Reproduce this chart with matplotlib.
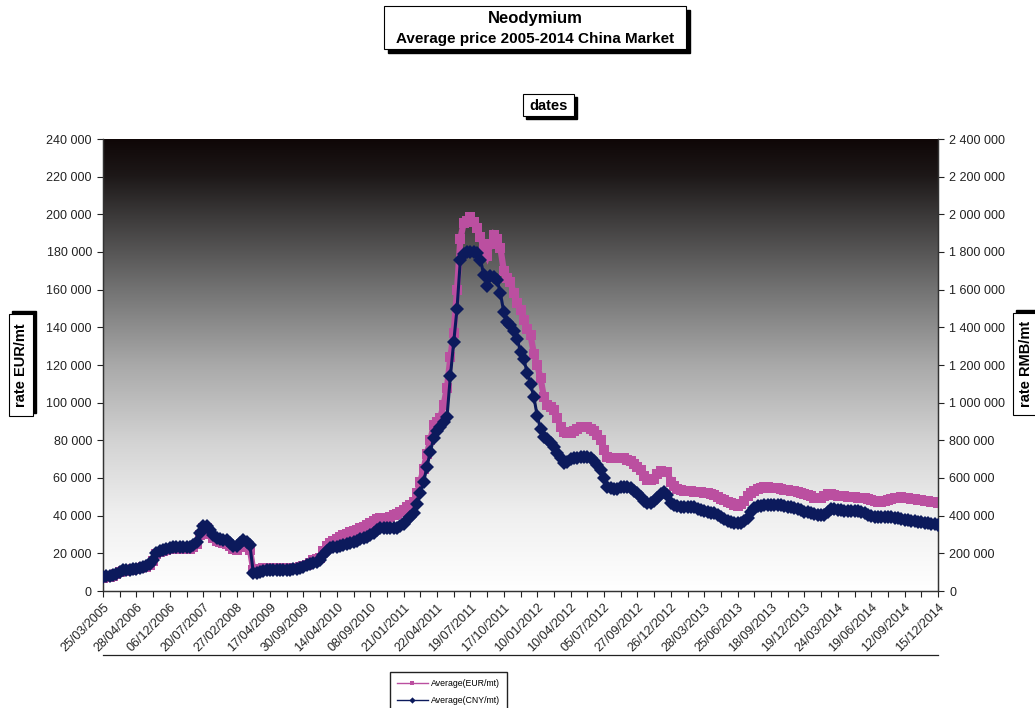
import matplotlib

matplotlib.use("Agg")
import matplotlib.pyplot as plt
import numpy as np
from matplotlib.colors import LinearSegmentedColormap
from matplotlib.lines import Line2D
from matplotlib.patches import Rectangle

plt.rcParams["font.family"] = ["Liberation Sans", "DejaVu Sans"]

# category labels shown on the date axis (one every 10 samples)
date_labels = [
    "25/03/2005", "28/04/2006", "06/12/2006", "20/07/2007", "27/02/2008",
    "17/04/2009", "30/09/2009", "14/04/2010", "08/09/2010", "21/01/2011",
    "22/04/2011", "19/07/2011", "17/10/2011", "10/01/2012", "10/04/2012",
    "05/07/2012", "27/09/2012", "26/12/2012", "28/03/2013", "25/06/2013",
    "18/09/2013", "19/12/2013", "24/03/2014", "19/06/2014", "12/09/2014",
    "15/12/2014",
]

# average price, EUR/mt (thousands), sampled evenly along the category axis
eur_k = [
    7.0, 7.3, 7.6, 8.0, 9.0, 10.0, 10.4, 10.8, 11.2, 11.5,
    11.8, 12.2, 12.5, 13.0, 14.0, 16.0, 19.5, 20.6, 21.3, 22.0,
    22.2, 22.4, 22.5, 22.5, 22.5, 22.5, 22.5, 23.5, 25.0, 30.0,
    33.5, 33.2, 30.5, 28.0, 26.5, 25.8, 25.3, 25.0, 24.0, 22.5,
    22.0, 23.5, 24.5, 23.5, 22.0, 11.0, 11.5, 11.8, 12.0, 12.0,
    12.0, 12.0, 12.0, 12.0, 12.0, 12.0, 12.2, 12.3, 12.4, 12.5,
    13.2, 14.0, 15.0, 16.2, 17.0, 17.5, 21.0, 24.0, 25.5, 26.5,
    27.5, 28.5, 29.5, 30.5, 31.2, 32.0, 32.6, 33.3, 34.0, 35.0,
    36.0, 37.0, 38.0, 38.5, 38.8, 39.0, 39.5, 40.3, 41.0, 42.0,
    43.2, 44.5, 45.8, 47.0, 52.0, 58.0, 65.0, 73.0, 80.0, 88.0,
    90.0, 92.0, 99.0, 108.0, 124.0, 137.0, 160.0, 187.0, 195.5, 196.5,
    198.5, 196.0, 193.0, 188.0, 182.0, 178.0, 184.0, 189.0, 187.0, 182.0,
    170.0, 166.0, 164.0, 158.0, 153.0, 149.0, 144.0, 139.0, 136.0, 126.0,
    120.0, 113.0, 103.0, 99.0, 97.5, 96.0, 92.0, 87.0, 84.5, 84.0,
    84.0, 85.0, 86.0, 87.0, 87.2, 87.0, 86.0, 85.0, 83.0, 80.0,
    75.0, 71.0, 70.8, 70.5, 70.5, 70.5, 70.5, 69.8, 69.0, 67.5,
    66.0, 64.0, 61.0, 59.0, 59.0, 59.5, 62.0, 63.5, 63.3, 63.0,
    58.0, 55.5, 54.0, 53.5, 53.3, 53.2, 53.0, 52.8, 52.7, 52.5,
    52.2, 51.8, 51.3, 51.0, 50.0, 49.0, 48.3, 47.5, 46.5, 45.5,
    45.0, 46.0, 48.0, 50.5, 52.0, 53.0, 54.0, 54.5, 55.0, 55.0,
    54.8, 54.6, 54.5, 54.0, 53.8, 53.5, 53.3, 53.0, 52.5, 52.0,
    51.3, 51.0, 50.3, 49.6, 49.3, 49.3, 50.5, 51.5, 51.3, 51.0,
    50.5, 50.3, 50.2, 50.0, 50.0, 49.8, 49.6, 49.4, 49.3, 48.8,
    48.2, 47.7, 47.4, 47.4, 47.8, 48.3, 48.8, 49.3, 49.6, 49.8,
    49.6, 49.3, 49.0, 48.7, 48.4, 48.2, 48.0, 47.7, 47.4, 47.1,
    46.8,
]

# average price, CNY/mt (thousands), same sampling
cny_k = [
    76, 78, 80, 83, 90, 102, 110, 112, 114, 115,
    118, 123, 128, 133, 142, 165, 200, 212, 218, 225,
    228, 231, 234, 235, 235, 235, 235, 245, 260, 310,
    345, 345, 325, 300, 280, 276, 273, 270, 255, 240,
    238, 255, 270, 258, 242, 96, 97, 100, 105, 109,
    110, 110, 110, 110, 110, 110, 112, 115, 119, 124,
    130, 138, 143, 150, 154, 165, 190, 215, 226, 232,
    235, 237, 242, 248, 255, 261, 268, 275, 283, 288,
    297, 310, 325, 333, 333, 333, 333, 333, 335, 345,
    358, 375, 395, 415, 460, 520, 580, 660, 740, 810,
    850, 870, 895, 925, 1140, 1320, 1500, 1760, 1790, 1800,
    1800, 1800, 1795, 1760, 1680, 1620, 1670, 1665, 1650, 1580,
    1480, 1430, 1410, 1380, 1340, 1270, 1230, 1160, 1100, 1030,
    930, 860, 820, 805, 785, 765, 735, 705, 680, 685,
    700, 705, 707, 710, 710, 710, 705, 690, 670, 640,
    600, 550, 545, 540, 542, 550, 554, 552, 545, 530,
    518, 500, 480, 465, 468, 480, 495, 515, 525, 510,
    465, 455, 450, 448, 448, 448, 448, 445, 438, 430,
    425, 420, 416, 412, 405, 395, 383, 373, 368, 362,
    360, 360, 370, 390, 420, 440, 450, 453, 456, 457,
    457, 457, 457, 456, 452, 448, 444, 440, 435, 428,
    422, 418, 412, 407, 404, 404, 405, 420, 435, 433,
    430, 428, 427, 426, 426, 425, 423, 421, 415, 405,
    398, 395, 395, 395, 395, 395, 393, 390, 385, 380,
    378, 376, 373, 370, 368, 365, 363, 360, 358, 355,
    351,
]

W, H = 1035, 708
PINK = "#bb4fa0"
NAVY = "#0c1a5c"


def fx(px):
    return px / W


def fy(py):
    return 1 - py / H


def shadow_box(fig, x0, y0, x1, y1, dx, dy):
    # white box with a black drop shadow, pixel coords from top-left
    fig.patches.append(Rectangle((fx(x0 + dx), fy(y1 + dy)), fx(x1 - x0), (y1 - y0) / H,
                                 transform=fig.transFigure, facecolor="black",
                                 edgecolor="black", zorder=5))
    fig.patches.append(Rectangle((fx(x0), fy(y1)), fx(x1 - x0), (y1 - y0) / H,
                                 transform=fig.transFigure, facecolor="white",
                                 edgecolor="black", linewidth=0.8, zorder=6))


def thousands(v, _pos=None):
    return f"{int(round(v)):,}".replace(",", " ")


fig = plt.figure(figsize=(W / 100, H / 100), dpi=100)
ax = fig.add_axes([fx(103), fy(591), fx(938 - 103), 452 / H])

n = len(eur_k)
idx = np.arange(n)
eur = np.array(eur_k) * 1000
cny = np.array(cny_k) * 1000

# dark-to-white vertical gradient behind the plot (row 0 = top)
grad_cmap = LinearSegmentedColormap.from_list("bg", [
    (0.0, "#0f0707"), (0.08, "#1d1818"), (0.17, "#3c3a3a"), (0.33, "#727272"),
    (0.5, "#a9a9a9"), (0.67, "#d3d3d3"), (0.83, "#efefef"), (1.0, "#ffffff"),
])
grad = np.linspace(0, 1, 256).reshape(-1, 1)
ax.imshow(grad, extent=[0, n - 1, 0, 240000], origin="upper", aspect="auto",
          cmap=grad_cmap, interpolation="bilinear", zorder=0)

ax.plot(idx, eur, color=PINK, lw=4.5, marker="s", markersize=7.2,
        markeredgewidth=0, solid_joinstyle="miter", zorder=3)
ax.set_xlim(0, n - 1)
ax.set_ylim(0, 240000)
ax.set_yticks(np.arange(0, 240001, 20000))
ax.yaxis.set_major_formatter(plt.FuncFormatter(thousands))

ax2 = ax.twinx()
ax2.plot(idx, cny, color=NAVY, lw=2.2, marker="D", markersize=7.4,
         markeredgewidth=0, zorder=4)
ax2.set_ylim(0, 2400000)
ax2.set_yticks(np.arange(0, 2400001, 200000))
ax2.yaxis.set_major_formatter(plt.FuncFormatter(thousands))
ax2.set_xlim(0, n - 1)

tick_pos = np.arange(0, n, 5)
ax.set_xticks(tick_pos)
ax.set_xticklabels([date_labels[i // 10] if i % 10 == 0 else "" for i in tick_pos],
                   rotation=45, ha="right", rotation_mode="anchor", fontsize=9)

for a in (ax, ax2):
    a.tick_params(direction="out", length=4.5, width=0.8, colors="#222222",
                  labelsize=9, labelcolor="#222222")
    a.spines["top"].set_visible(False)
    for s in ("left", "right", "bottom"):
        a.spines[s].set_color("#333333")
        a.spines[s].set_linewidth(0.9)
ax.tick_params(axis="x", pad=3)

# title box
shadow_box(fig, 384, 6, 686, 49, 4, 4)
fig.text(fx(535), fy(19), "Neodymium", ha="center", va="center",
         fontsize=12, fontweight="bold", zorder=7)
fig.text(fx(535), fy(39), "Average price 2005-2014 China Market", ha="center",
         va="center", fontsize=11, fontweight="bold", zorder=7)

# axis title boxes
shadow_box(fig, 523, 94, 574, 116, 3, 3)
fig.text(fx(548.5), fy(105.5), "dates", ha="center", va="center",
         fontsize=10.5, fontweight="bold", zorder=7)

shadow_box(fig, 9, 314, 33, 416, 3, -3)
fig.text(fx(21), fy(365), "rate EUR/mt", ha="center", va="center", rotation=90,
         fontsize=10.5, fontweight="bold", zorder=7)

shadow_box(fig, 1013, 313, 1040, 415, 3, -3)
fig.text(fx(1026), fy(364), "rate RMB/mt", ha="center", va="center", rotation=90,
         fontsize=10.5, fontweight="bold", zorder=7)

# separator line under the date labels
fig.add_artist(Line2D([fx(103), fx(938)], [fy(655), fy(655)], color="#222222",
                      lw=0.9, transform=fig.transFigure))

handles = [
    Line2D([], [], color=PINK, lw=1.0, marker="s", markersize=3.5, markeredgewidth=0),
    Line2D([], [], color=NAVY, lw=1.0, marker="D", markersize=3.2, markeredgewidth=0),
]
fig.legend(handles, ["Average(EUR/mt)", "Average(CNY/mt)"], loc="upper left",
           bbox_to_anchor=(fx(390), fy(672)), fontsize=6.3, frameon=True,
           fancybox=False, edgecolor="#222222", framealpha=1, borderpad=0.75,
           handlelength=3.6, handletextpad=0.35, labelspacing=1.0, borderaxespad=0)

fig.savefig("out.png", dpi=100)
